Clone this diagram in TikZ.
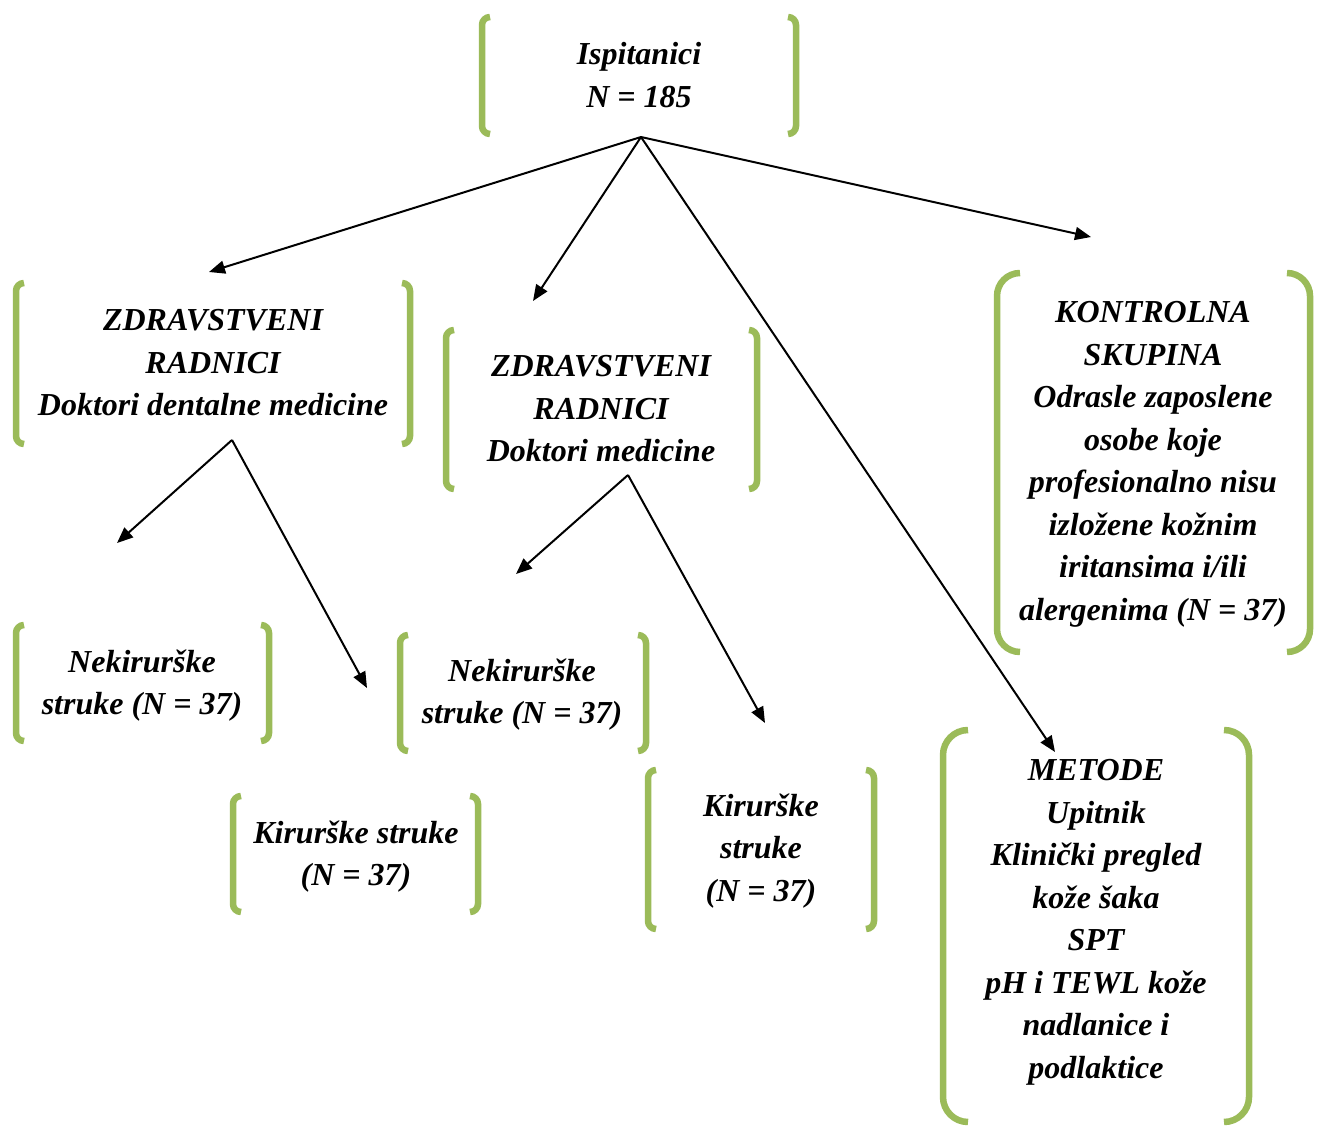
\documentclass[tikz,border=0pt]{standalone}
\usepackage{fontspec}
\setmainfont{Liberation Serif}
\usetikzlibrary{arrows.meta}
\definecolor{brk}{HTML}{9BBB59}
\newcommand\greenbrackets[5]{%
  \draw[brkt, rounded corners=#5] (#1+#5,#3) -- (#1,#3) -- (#1,#4) -- (#1+#5,#4);
  \draw[brkt, rounded corners=#5] (#2-#5,#3) -- (#2,#3) -- (#2,#4) -- (#2-#5,#4);}
\begin{document}
\begin{tikzpicture}[x=1pt,y=-1pt,
  brkt/.style={draw=brk, line width=6.5pt, line cap=butt},
  lbl/.style={font=\fontsize{32}{42.5}\selectfont\bfseries\itshape, align=center,
    inner sep=0pt, anchor=north, execute at begin node=\strut},
  arr/.style={draw=black, line width=2pt, -{Triangle[length=16pt,width=13pt]}}]
\useasboundingbox (0,0) rectangle (1319,1126);

% brackets
\greenbrackets{482}{796}{17}{134}{8}
\greenbrackets{16}{410}{283}{444}{8}
\greenbrackets{446}{757}{330}{489}{8}
\greenbrackets{997}{1310}{273}{652}{23}
\greenbrackets{16}{269}{625}{741}{8}
\greenbrackets{400}{646}{635}{751}{8}
\greenbrackets{233}{478}{796}{912}{8}
\greenbrackets{648}{874}{770}{929}{8}
\greenbrackets{943}{1249}{730}{1122}{25}

% texts
\node[lbl] (isp) at (639,42.25) {Ispitanici\\N = 185};
\node[lbl] (zdr1) at (213,309.25) {ZDRAVSTVENI\\RADNICI\\Doktori dentalne medicine};
\node[lbl] (zdr2) at (601,355.25) {ZDRAVSTVENI\\RADNICI\\Doktori medicine};
\node[lbl] (kon) at (1153,301.25) {KONTROLNA\\SKUPINA\\Odrasle zaposlene\\osobe koje\\profesionalno nisu\\izložene kožnim\\iritansima i/ili\\alergenima (N = 37)};
\node[lbl] (nek1) at (142,649.25) {Nekirurške\\struke (N = 37)};
\node[lbl] (nek2) at (522,658.25) {Nekirurške\\struke (N = 37)};
\node[lbl] (kir1) at (356,820.25) {Kirurške struke\\(N = 37)};
\node[lbl] (kir2) at (761,793.25) {Kirurške\\struke\\(N = 37)};
\node[lbl] (met) at (1096,759.25) {METODE\\Upitnik\\Klinički pregled\\kože šaka\\SPT\\pH i TEWL kože\\nadlanice i\\podlaktice};

% connector coordinates
\coordinate (s1) at (641,137);
\coordinate (s2) at (232,440);
\coordinate (s3) at (628,475);
\coordinate (e1) at (209,272);
\coordinate (e2) at (533,301);
\coordinate (e3) at (1055,752);
\coordinate (e4) at (1091,237);
\coordinate (e5) at (117,543);
\coordinate (e6) at (367,688);
\coordinate (e7) at (516,574);
\coordinate (e8) at (765,723);

\draw[arr] (s1) -- (e1);
\draw[arr] (s1) -- (e2);
\draw[arr] (s1) -- (e3);
\draw[arr] (s1) -- (e4);
\draw[arr] (s2) -- (e5);
\draw[arr] (s2) -- (e6);
\draw[arr] (s3) -- (e7);
\draw[arr] (s3) -- (e8);
\end{tikzpicture}
\end{document}
